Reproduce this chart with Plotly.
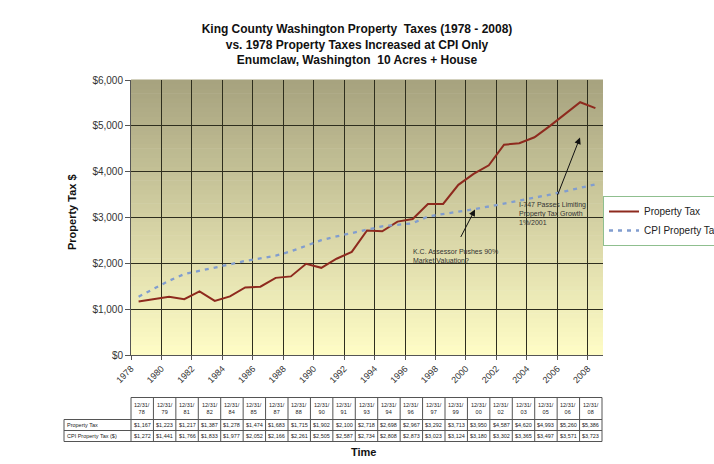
import plotly.graph_objects as go

# ---------------- data ----------------
years = list(range(1978, 2009))
property_tax = [1167, 1223, 1273, 1217, 1387, 1180, 1278, 1474, 1490, 1683, 1715,
                1990, 1902, 2100, 2250, 2718, 2698, 2910, 2967, 3292, 3295,
                3713, 3950, 4140, 4587, 4620, 4750, 4993, 5260, 5515, 5386]
cpi_property_tax = [1272, 1441, 1620, 1766, 1833, 1905, 1977, 2052, 2110, 2166, 2261,
                    2385, 2505, 2587, 2660, 2734, 2808, 2840, 2873, 3023, 3070,
                    3124, 3180, 3240, 3302, 3365, 3430, 3497, 3571, 3650, 3723]
table_years = [1978, 1979, 1981, 1982, 1984, 1985, 1987, 1988, 1990, 1991, 1993,
               1994, 1996, 1997, 1999, 2000, 2002, 2003, 2005, 2006, 2008]
series_names = ["Property Tax", "CPI Property Tax"]
table_row_labels = ["Property Tax", "CPI Property Tax ($)"]
y_tick_values = [0, 1000, 2000, 3000, 4000, 5000, 6000]
title_lines = ["King County Washington Property  Taxes (1978 - 2008)",
               "vs. 1978 Property Taxes Increased at CPI Only",
               "Enumclaw, Washington  10 Acres + House"]
note1_lines = ["K.C. Assessor Pushes 90%", "Market Valuation?"]
note2_lines = ["I-747 Passes Limiting", "Property Tax Growth", "1%/2001"]

# ---------------- geometry helpers ----------------
W, H = 714, 464
L, R, T, B = 131, 111, 80, 109
PW = W - L - R
PH = H - T - B
FONT = "Liberation Sans, Arial, sans-serif"


def px(x):
    return (x - L) / PW


def py(y):
    return (H - B - y) / PH


xs = [y + 0.5 for y in years]  # points sit mid-year (between tick marks)

fig = go.Figure()
fig.add_trace(go.Scatter(x=xs, y=property_tax, mode="lines", name=series_names[0],
                         line=dict(color="#8e2a1e", width=2)))
fig.add_trace(go.Scatter(x=xs, y=cpi_property_tax, mode="lines", name=series_names[1],
                         line=dict(color="#819dcf", width=2.3, dash="4px,5px")))

shapes = []
# gradient plot background
n = 60
top = (166, 162, 126)
bot = (255, 253, 198)
for k in range(n):
    t = (k + 0.5) / n
    c = tuple(int(round(bot[i] + (top[i] - bot[i]) * t)) for i in range(3))
    shapes.append(dict(type="rect", xref="x domain", yref="y domain",
                       x0=0, x1=1, y0=k / n, y1=(k + 1) / n + 0.002,
                       fillcolor="rgb(%d,%d,%d)" % c, line=dict(width=0), layer="below"))

annotations = []
# y axis title
annotations.append(dict(text="<b>Property Tax $</b>", xref="paper", yref="paper",
                        x=px(72), y=py(212), xanchor="center", yanchor="middle",
                        textangle=-90, showarrow=False,
                        font=dict(family=FONT, size=11, color="#111")))
# x axis title
annotations.append(dict(text="<b>Time</b>", xref="paper", yref="paper",
                        x=px(363), y=py(452), xanchor="center", yanchor="middle",
                        showarrow=False, font=dict(family=FONT, size=11, color="#111")))

# notes with arrows
annotations.append(dict(text="", xref="paper", yref="paper", x=px(475), y=py(209.5),
                        ax=-15, ay=29, showarrow=True, arrowhead=2, arrowsize=1.3,
                        arrowwidth=1, arrowcolor="#111"))
annotations.append(dict(text="<br>".join(note1_lines), xref="paper", yref="paper",
                        x=px(411), y=py(245.5), xanchor="left", yanchor="top", align="left",
                        showarrow=False, font=dict(family=FONT, size=7, color="#333")))
annotations.append(dict(text="", xref="paper", yref="paper", x=px(580), y=py(137.5),
                        ax=-23, ay=59, showarrow=True, arrowhead=2, arrowsize=1.3,
                        arrowwidth=1, arrowcolor="#111"))
annotations.append(dict(text="<br>".join(note2_lines), xref="paper", yref="paper",
                        x=px(517), y=py(199), xanchor="left", yanchor="top", align="left",
                        showarrow=False, font=dict(family=FONT, size=7, color="#333")))

# ---------------- data table ----------------
tl, tr = 131, 602
ncol = len(table_years)
cw = (tr - tl) / ncol
y_top, y_h, y_r1, y_r2 = 397.5, 419.5, 430.5, 441.5
lab_left = 64
lc = "#555"
shapes.append(dict(type="line", xref="paper", yref="paper", x0=px(tl), x1=px(tr),
                   y0=py(y_top), y1=py(y_top), line=dict(color=lc, width=1)))
for yy in (y_h, y_r1, y_r2):
    shapes.append(dict(type="line", xref="paper", yref="paper", x0=px(lab_left), x1=px(tr),
                       y0=py(yy), y1=py(yy), line=dict(color=lc, width=1)))
shapes.append(dict(type="line", xref="paper", yref="paper", x0=px(lab_left), x1=px(lab_left),
                   y0=py(y_h), y1=py(y_r2), line=dict(color=lc, width=1)))
for i in range(ncol + 1):
    xx = tl + i * cw
    shapes.append(dict(type="line", xref="paper", yref="paper", x0=px(xx), x1=px(xx),
                       y0=py(y_top), y1=py(y_r2), line=dict(color=lc, width=1)))

tfont = dict(family=FONT, size=5.5, color="#222")
for i, ty in enumerate(table_years):
    cx = px(tl + (i + 0.5) * cw)
    idx = years.index(ty)
    cells = [("12/31/<br>%s" % str(ty)[2:], (y_top + y_h) / 2),
             ("$%s" % format(property_tax[idx], ","), (y_h + y_r1) / 2),
             ("$%s" % format(cpi_property_tax[idx], ","), (y_r1 + y_r2) / 2)]
    for txt, cy in cells:
        annotations.append(dict(text=txt, xref="paper", yref="paper", x=cx, y=py(cy),
                                xanchor="center", yanchor="middle", showarrow=False,
                                font=tfont, borderpad=0))
for lab, (a, b) in zip(table_row_labels, [(y_h, y_r1), (y_r1, y_r2)]):
    annotations.append(dict(text=lab, xref="paper", yref="paper", x=px(lab_left + 2),
                            y=py((a + b) / 2), xanchor="left", yanchor="middle",
                            showarrow=False, font=tfont, borderpad=0))

fig.update_layout(
    width=W, height=H,
    margin=dict(l=L, r=R, t=T, b=B, autoexpand=False),
    paper_bgcolor="white",
    plot_bgcolor="rgba(0,0,0,0)",
    font=dict(family=FONT, color="#222"),
    title=dict(text="<b>" + "<br>".join(title_lines) + "</b>", x=px(367), xanchor="center",
               y=1 - 33 / H, yanchor="top", font=dict(family=FONT, size=12, color="#111")),
    showlegend=True,
    legend=dict(x=1.0, xanchor="left", y=py(196), yanchor="top",
                bgcolor="white", bordercolor="#8fbf8f", borderwidth=1,
                font=dict(family=FONT, size=10, color="#222"), itemwidth=30,
                tracegroupgap=0),
    shapes=shapes,
    annotations=annotations,
)
fig.update_xaxes(range=[1978, 2009], tickmode="array", tickvals=list(range(1978, 2009, 2)),
                 ticktext=[str(v) for v in range(1978, 2009, 2)], tickangle=-45,
                 showgrid=True, gridcolor="#2e2e1e", gridwidth=1.3,
                 showline=True, linecolor="#555", linewidth=1,
                 ticks="outside", ticklen=4, tickcolor="#555",
                 tickfont=dict(family=FONT, size=9, color="#333"), zeroline=False)
fig.update_yaxes(range=[0, 6000], tickvals=y_tick_values,
                 ticktext=["$" + format(v, ",") for v in y_tick_values],
                 showgrid=True, gridcolor="#2e2e1e", gridwidth=1.3,
                 showline=True, linecolor="#555", linewidth=1,
                 ticks="outside", ticklen=5, tickcolor="#555",
                 tickfont=dict(family=FONT, size=10, color="#333"), zeroline=False)

fig.write_html("out.html", config={"displayModeBar": False},
               post_script="document.body.style.margin='0';")
